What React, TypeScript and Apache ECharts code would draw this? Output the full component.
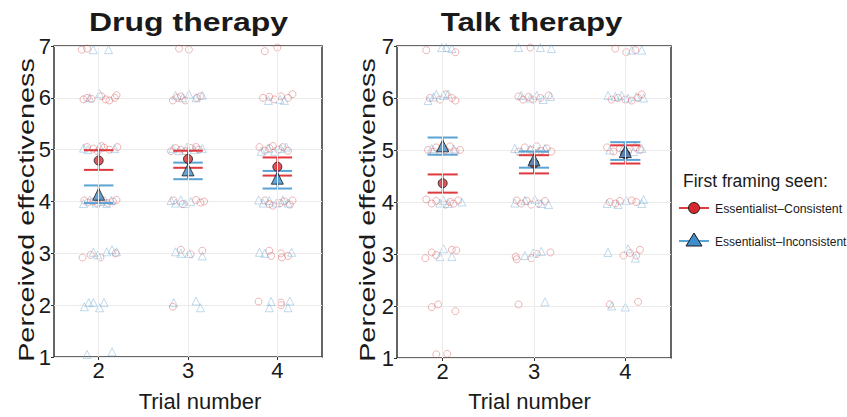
import React, { useEffect, useRef } from "react";
import * as echarts from "echarts";

const FONT = '"Liberation Sans", Arial, Helvetica, sans-serif';

const panelTitles = ["Drug therapy", "Talk therapy"];
const trials = [2, 3, 4];
const yTicks = [1, 2, 3, 4, 5, 6, 7];
const legendTitle = "First framing seen:";
const groupNames = ["Essentialist\u2013Consistent", "Essentialist\u2013Inconsistent"];

// Means and CI bounds per trial (2, 3, 4)
const drugConsMean = [4.79, 4.82, 4.67];
const drugConsLo = [4.61, 4.65, 4.5];
const drugConsHi = [4.99, 4.98, 4.85];
const drugIncMean = [4.14, 4.61, 4.45];
const drugIncLo = [3.97, 4.43, 4.25];
const drugIncHi = [4.31, 4.75, 4.59];
const talkConsMean = [4.36, 4.74, 4.92];
const talkConsLo = [4.18, 4.55, 4.74];
const talkConsHi = [4.53, 4.9, 5.09];
const talkIncMean = [5.08, 4.81, 4.97];
const talkIncLo = [4.91, 4.66, 4.81];
const talkIncHi = [5.24, 4.97, 5.15];

// Raw responses: [trial, jitter, rating]
const drugConsPts = [
  [2,-0.19,6.93],[2,-0.13,6.95],
  [2,-0.17,5.97],[2,-0.13,6.0],[2,-0.08,5.98],[2,0.03,6.03],[2,0.08,5.97],[2,0.12,5.95],[2,0.18,6.0],[2,0.2,6.05],
  [2,-0.13,5.05],[2,-0.06,5.02],[2,-0.01,4.97],[2,0.03,5.07],[2,0.06,5.04],[2,0.12,5.0],[2,0.21,5.05],
  [2,-0.16,4.02],[2,-0.12,3.98],[2,-0.06,4.0],[2,-0.01,3.96],[2,0.05,4.02],[2,0.1,3.97],[2,0.16,4.0],[2,0.2,4.03],
  [2,-0.18,2.92],[2,-0.09,2.97],[2,0.02,2.92],[2,0.19,3.0],
  [3,-0.1,6.95],[3,0.01,6.93],
  [3,-0.17,5.95],[3,-0.12,6.0],[3,-0.08,6.03],[3,-0.03,5.95],[3,0.1,6.0],[3,0.14,6.03],
  [3,-0.19,4.97],[3,-0.14,5.03],[3,-0.08,5.0],[3,-0.03,4.97],[3,0.03,5.03],[3,0.09,5.05],[3,0.12,5.0],
  [3,-0.16,4.02],[3,-0.06,3.95],[3,0.09,4.03],[3,0.14,3.98],[3,0.18,4.0],
  [3,-0.08,3.07],[3,0.03,2.98],[3,0.16,3.05],
  [3,-0.17,1.97],
  [4,-0.14,6.9],[4,0,6.97],
  [4,-0.16,6.0],[4,-0.09,6.02],[4,-0.03,5.97],[4,0.04,6.03],[4,0.12,6.0],[4,0.17,6.07],
  [4,-0.2,5.05],[4,-0.14,4.98],[4,-0.09,5.03],[4,-0.05,5.07],[4,0.01,5.0],[4,0.06,5.05],[4,0.12,4.98],
  [4,-0.14,4.02],[4,-0.09,3.95],[4,-0.05,3.92],[4,0.03,3.97],[4,0.08,4.0],[4,0.14,3.94],[4,0.17,4.02],
  [4,-0.09,3.05],[4,-0.07,2.95],[4,0.04,3.0],[4,0.05,2.92],[4,0.12,2.95],
  [4,-0.21,2.07],[4,0.04,2.0],[4,0.04,2.05],
];
const drugIncPts = [
  [2,-0.06,6.93],[2,0.11,6.93],
  [2,-0.1,6.0],[2,0.01,6.08],
  [2,-0.17,5.03],[2,-0.12,5.0],[2,0.01,5.05],[2,0.18,5.02],
  [2,-0.17,3.96],[2,-0.1,4.03],[2,-0.03,3.97],[2,0.03,4.0],[2,0.09,3.96],[2,0.14,4.02],
  [2,-0.06,3.02],[2,-0.01,2.97],[2,0.09,3.03],[2,0.15,3.07],[2,0.2,3.03],
  [2,-0.16,1.97],[2,-0.11,2.05],[2,-0.06,2.05],[2,0.01,1.95],[2,0.06,2.05],
  [2,-0.13,1.05],[2,0.15,1.1],
  [3,-0.14,6.05],[3,-0.06,6.0],[3,0.01,6.07],[3,0.09,6.0],[3,0.16,6.05],
  [3,-0.17,5.02],[3,-0.1,4.98],[3,-0.01,5.05],[3,0.07,5.0],[3,0.16,5.02],
  [3,-0.19,4.02],[3,-0.14,3.97],[3,-0.08,4.03],[3,-0.03,3.96],[3,0.03,4.0],
  [3,-0.14,3.03],[3,-0.08,3.0],[3,0.01,3.0],[3,0.16,2.95],
  [3,-0.16,2.05],[3,0.09,2.08],[3,0.14,1.95],
  [4,-0.1,5.95],[4,0.03,5.97],[4,0.08,5.95],
  [4,-0.18,4.97],[4,-0.1,5.02],[4,-0.03,4.97],[4,0.04,5.02],[4,0.1,5.05],
  [4,-0.21,4.03],[4,-0.16,3.97],[4,-0.09,4.02],[4,-0.01,3.97],[4,0.06,4.03],[4,0.12,3.97],
  [4,-0.2,3.02],[4,-0.14,3.0],[4,0.16,3.02],
  [4,-0.07,2.07],[4,-0.09,1.95],[4,0.14,2.08],[4,0.12,1.95],
];
const talkConsPts = [
  [2,-0.18,6.92],[2,0.14,6.88],
  [2,-0.14,6.0],[2,-0.03,5.97],[2,0.03,6.07],[2,0.1,6.0],[2,0.14,5.95],
  [2,-0.16,5.0],[2,-0.1,4.97],[2,-0.07,5.05],[2,0.03,5.0],[2,0.08,5.07],[2,0.14,4.97],[2,0.19,5.0],
  [2,-0.18,4.05],[2,-0.12,3.97],[2,-0.07,4.02],[2,0.03,3.95],[2,0.08,4.0],[2,0.12,3.97],[2,0.17,4.03],
  [2,-0.19,2.92],[2,-0.12,3.03],[2,-0.07,2.98],[2,0.1,3.08],[2,0.15,3.07],
  [2,-0.12,1.98],[2,-0.05,2.03],[2,0.14,1.9],
  [2,-0.07,1.07],[2,0.05,1.08],
  [3,-0.04,6.97],
  [3,-0.17,6.03],[3,-0.12,5.97],[3,-0.06,6.02],[3,-0.01,5.97],[3,0.07,6.0],[3,0.16,6.05],
  [3,-0.17,4.97],[3,-0.1,5.05],[3,-0.03,5.0],[3,0.03,5.07],[3,0.08,4.98],[3,0.14,5.03],[3,0.19,4.97],
  [3,-0.19,4.03],[3,-0.14,3.97],[3,-0.08,4.02],[3,-0.03,3.95],[3,0.05,3.97],[3,0.12,4.02],
  [3,-0.2,2.95],[3,-0.19,2.9],[3,-0.03,2.92],[3,0.03,3.0],[3,0.18,3.03],
  [3,-0.17,2.03],
  [4,-0.11,6.95],[4,0.01,6.88],[4,0.11,6.92],
  [4,-0.15,5.97],[4,-0.08,6.0],[4,0,5.97],[4,0.07,5.95],[4,0.14,6.0],[4,0.18,6.07],
  [4,-0.2,5.05],[4,-0.13,4.97],[4,-0.06,5.03],[4,0.03,4.97],[4,0.11,5.05],[4,0.16,5.0],
  [4,-0.17,4.0],[4,-0.11,3.97],[4,-0.06,4.02],[4,0.07,4.03],[4,0.12,4.0],
  [4,-0.02,2.97],[4,0.05,3.02],[4,0.12,2.97],[4,0.16,3.08],
  [4,-0.17,2.03],[4,0.14,2.08],
];
const talkIncPts = [
  [2,-0.01,6.97],[2,0.04,6.97],[2,0.1,6.95],
  [2,-0.16,5.95],[2,-0.1,6.02],[2,-0.07,6.07],[2,0.01,6.05],[2,0.06,6.08],
  [2,-0.12,5.03],[2,-0.03,4.97],[2,0.12,5.02],
  [2,-0.03,3.98],[2,0.01,4.03],[2,0.06,3.97],[2,0.21,4.0],
  [2,0.01,3.1],[2,-0.03,2.95],[2,0.1,2.95],
  [3,-0.17,6.97],[3,0.07,6.97],[3,0.19,6.95],
  [3,-0.14,6.05],[3,-0.04,6.0],[3,0.03,6.05],[3,0.1,5.97],[3,0.18,6.03],
  [3,-0.21,5.03],[3,-0.14,4.97],[3,-0.04,5.02],[3,0.05,4.98],[3,0.12,5.03],
  [3,-0.21,3.98],[3,-0.1,4.03],[3,0.01,4.05],[3,0.08,3.97],[3,0.16,3.95],
  [3,-0.1,2.97],[3,-0.01,3.02],[3,0.08,3.05],
  [3,0.12,2.08],
  [4,0.07,6.92],[4,0.18,6.92],
  [4,-0.19,6.05],[4,-0.11,6.03],[4,-0.04,6.05],[4,0.03,6.0],[4,0.12,6.03],[4,0.2,6.0],
  [4,-0.17,5.0],[4,-0.02,5.05],[4,0.09,4.97],[4,0.18,5.03],
  [4,-0.2,3.97],[4,-0.08,3.95],[4,0.01,4.03],[4,0.18,3.97],[4,0.2,4.05],
  [4,-0.19,3.03],[4,0.03,3.1],[4,0.11,2.92],
  [4,-0.15,2.0],[4,0,1.98],
];

const RED = "#e0393e";
const BLUE = "#5ba3d4";
const RED_FILL = "#d42a2f";
const BLUE_FILL = "#3e8ecb";
const RED_RAW = "rgba(214,72,72,0.5)";
const BLUE_RAW = "rgba(110,170,215,0.55)";

function App() {
  const ref = useRef<HTMLDivElement>(null);
  useEffect(() => {
    if (!ref.current) return;
    const chart = echarts.init(ref.current, null, { renderer: "svg" });

    const grids = [
      { left: 54, top: 46, width: 268, height: 311 },
      { left: 397, top: 46, width: 274, height: 312 },
    ];
    const panels = [
      { cons: drugConsPts, inc: drugIncPts, cm: drugConsMean, cl: drugConsLo, ch: drugConsHi, im: drugIncMean, il: drugIncLo, ih: drugIncHi },
      { cons: talkConsPts, inc: talkIncPts, cm: talkConsMean, cl: talkConsLo, ch: talkConsHi, im: talkIncMean, il: talkIncLo, ih: talkIncHi },
    ];

    const errRender = (color: string) => (params: any, api: any) => {
      const x = api.value(0);
      const lo = api.coord([x, api.value(1)]);
      const hi = api.coord([x, api.value(2)]);
      const half = api.size([0.165, 0])[0];
      const style = { stroke: color, lineWidth: 2 };
      return {
        type: "group",
        children: [
          { type: "line", shape: { x1: lo[0], y1: lo[1], x2: hi[0], y2: hi[1] }, style },
          { type: "line", shape: { x1: hi[0] - half, y1: hi[1], x2: hi[0] + half, y2: hi[1] }, style },
          { type: "line", shape: { x1: lo[0] - half, y1: lo[1], x2: lo[0] + half, y2: lo[1] }, style },
        ],
      };
    };

    const series: any[] = [];
    panels.forEach((p, i) => {
      const ax = { xAxisIndex: i, yAxisIndex: i };
      series.push({
        type: "scatter", ...ax, data: [], silent: true, z: 1,
        markLine: {
          silent: true, symbol: ["none", "none"], label: { show: false },
          lineStyle: { color: "#ebebeb", width: 1, type: "solid" },
          data: trials.map((t) => ({ xAxis: t })),
        },
      });
      series.push({
        type: "scatter", ...ax, name: groupNames[0], symbol: "circle", symbolSize: 7,
        itemStyle: { color: "rgba(0,0,0,0)", borderColor: RED_RAW, borderWidth: 1 },
        data: p.cons.map((d) => [d[0] + d[1], d[2]]), z: 2,
      });
      series.push({
        type: "scatter", ...ax, name: groupNames[1], symbol: "triangle", symbolSize: 8,
        itemStyle: { color: "rgba(0,0,0,0)", borderColor: BLUE_RAW, borderWidth: 1 },
        data: p.inc.map((d) => [d[0] + d[1], d[2]]), z: 2,
      });
      series.push({
        type: "custom", ...ax, renderItem: errRender(RED), z: 3,
        encode: { x: 0, y: [1, 2] },
        data: trials.map((t, k) => [t, p.cl[k], p.ch[k]]),
      });
      series.push({
        type: "custom", ...ax, renderItem: errRender(BLUE), z: 3,
        encode: { x: 0, y: [1, 2] },
        data: trials.map((t, k) => [t, p.il[k], p.ih[k]]),
      });
      series.push({
        type: "scatter", ...ax, symbol: "circle", symbolSize: 9, z: 4,
        itemStyle: { color: RED_FILL, borderColor: "#1a1a1a", borderWidth: 1 },
        data: trials.map((t, k) => [t, p.cm[k]]),
      });
      series.push({
        type: "scatter", ...ax, symbol: "triangle", symbolSize: 12, z: 4,
        itemStyle: { color: BLUE_FILL, borderColor: "#1a1a1a", borderWidth: 1 },
        data: trials.map((t, k) => [t, p.im[k]]),
      });
    });

    const xAxes = grids.map((_, i) => ({
      type: "value", gridIndex: i, min: 1.5, max: 4.5, interval: 0.5,
      axisLine: { show: false },
      axisTick: { show: true, customValues: trials, length: 3, lineStyle: { color: "#333" } },
      axisLabel: {
        customValues: trials, margin: 2, fontSize: 22, color: "#1a1a1a", fontFamily: FONT,
        formatter: (v: number) => (Number.isInteger(v) ? String(v) : ""),
      },
      splitLine: { show: false },
    }));
    const yAxes = grids.map((_, i) => ({
      type: "value", gridIndex: i, min: yTicks[0], max: yTicks[yTicks.length - 1], interval: 1,
      axisLine: { show: false },
      axisTick: { show: true, length: 3, lineStyle: { color: "#333" } },
      axisLabel: { margin: 3, fontSize: 22, color: "#1a1a1a", fontFamily: FONT },
      splitLine: { show: true, lineStyle: { color: "#ebebeb", width: 1 } },
    }));

    const titleX = [188.5, 531.5];
    const titleScale = [1.28, 1.25];
    const yLabelX = [26, 367];
    const xLabelX = [200, 529.5];

    const graphic: any[] = [];
    panelTitles.forEach((t, i) => {
      graphic.push({
        type: "text", x: titleX[i], y: 22, scaleX: titleScale[i], silent: true,
        style: { text: t, fontSize: 25, fontWeight: "bold", fontFamily: FONT, fill: "#1a1a1a", align: "center", verticalAlign: "middle" },
      });
      graphic.push({
        type: "text", x: yLabelX[i], y: 210, rotation: Math.PI / 2, scaleX: 1.31, silent: true,
        style: { text: "Perceived effectiveness", fontSize: 22, fontFamily: FONT, fill: "#1a1a1a", align: "center", verticalAlign: "middle" },
      });
      graphic.push({
        type: "text", x: xLabelX[i], y: 401, silent: true,
        style: { text: "Trial number", fontSize: 22, fontFamily: FONT, fill: "#1a1a1a", align: "center", verticalAlign: "middle" },
      });
    });
    // Legend
    graphic.push({
      type: "text", x: 683, y: 181, silent: true,
      style: { text: legendTitle, fontSize: 17.5, fontFamily: FONT, fill: "#1a1a1a", align: "left", verticalAlign: "middle" },
    });
    graphic.push({ type: "line", shape: { x1: 679, y1: 208, x2: 709, y2: 208 }, style: { stroke: RED, lineWidth: 2 }, silent: true });
    graphic.push({ type: "circle", shape: { cx: 694, cy: 208, r: 5.5 }, style: { fill: RED_FILL, stroke: "#1a1a1a", lineWidth: 1 }, silent: true });
    graphic.push({
      type: "text", x: 715, y: 209, silent: true,
      style: { text: groupNames[0], fontSize: 12.3, fontFamily: FONT, fill: "#1a1a1a", align: "left", verticalAlign: "middle" },
    });
    graphic.push({ type: "line", shape: { x1: 679, y1: 241, x2: 709, y2: 241 }, style: { stroke: BLUE, lineWidth: 2 }, silent: true });
    graphic.push({
      type: "polygon", shape: { points: [[694, 233], [702, 246], [686, 246]] },
      style: { fill: BLUE_FILL, stroke: "#1a1a1a", lineWidth: 1 }, silent: true,
    });
    graphic.push({
      type: "text", x: 715, y: 242, silent: true,
      style: { text: groupNames[1], fontSize: 12, fontFamily: FONT, fill: "#1a1a1a", align: "left", verticalAlign: "middle" },
    });

    chart.setOption({
      animation: false,
      backgroundColor: "#ffffff",
      textStyle: { fontFamily: FONT },
      grid: grids.map((g) => ({ ...g, show: true, borderColor: "#333", borderWidth: 1.5, backgroundColor: "transparent" })),
      xAxis: xAxes,
      yAxis: yAxes,
      series,
      graphic,
    });
    return () => chart.dispose();
  }, []);
  return <div ref={ref} style={{ width: 847, height: 417, position: "absolute", left: 0, top: 0 }} />;
}

export default App;
